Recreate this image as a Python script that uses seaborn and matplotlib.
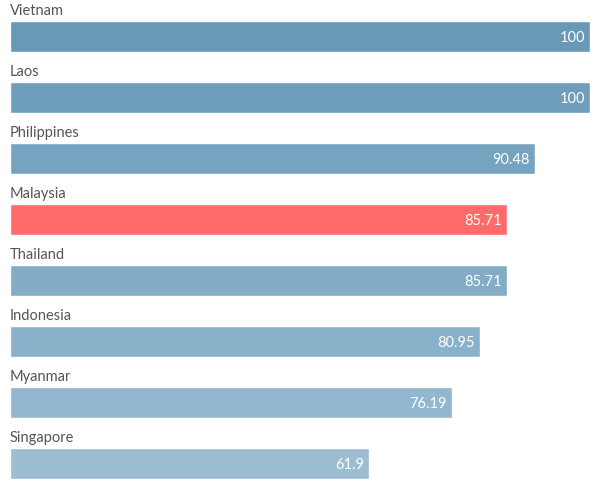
import matplotlib
matplotlib.use("Agg")
import matplotlib.pyplot as plt
import seaborn as sns
import pandas as pd

countries = ["Vietnam", "Laos", "Philippines", "Malaysia", "Thailand", "Indonesia", "Myanmar", "Singapore"]
scores = [100, 100, 90.48, 85.71, 85.71, 80.95, 76.19, 61.9]
colors = ["#6899b7", "#6e9ebc", "#75a3c0", "#ff6b6b", "#83acc6", "#8ab1ca", "#92b7ce", "#9cbdd2"]

sns.set_theme(style="white")
plt.rcParams["font.family"] = ["Lato", "DejaVu Sans"]

df = pd.DataFrame({"country": countries, "score": scores})

fig = plt.figure(figsize=(6.04, 4.86), dpi=100)
ax = fig.add_axes([10 / 604, 0, 580 / 604, 1])
sns.barplot(data=df, x="score", y="country", hue="country", palette=colors,
            legend=False, width=0.51, saturation=1, ax=ax)

ax.set_xlim(0, 100)
ax.set_ylim(7.37, -0.6)
ax.set_axis_off()

for i, (name, val) in enumerate(zip(countries, scores)):
    ax.text(0, i - 0.42, name, ha="left", va="center", fontsize=10.5, color="#555555")
    ax.text(val - 0.9, i + 0.02, f"{val:g}", ha="right", va="center", fontsize=10.5, color="white")

fig.savefig("out.png", dpi=100)
